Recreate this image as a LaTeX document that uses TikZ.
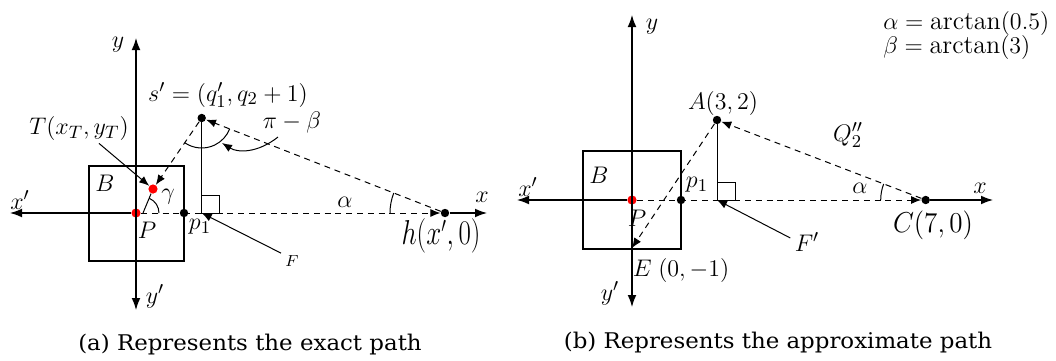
\documentclass[tikz,border=0pt]{standalone}
\usepackage{fontspec}
\newfontfamily\capfont{DejaVu Serif}
\usetikzlibrary{arrows.meta}
\begin{document}
\begin{tikzpicture}[x=0.5pt,y=-0.5pt,
  lbl/.style={inner sep=0pt,font=\fontsize{12.5}{14}\selectfont},
  axis/.style={line width=0.6pt,-{Latex[length=6pt,width=4.4pt]}},
  biaxis/.style={line width=0.6pt,{Latex[length=6pt,width=4.4pt]}-{Latex[length=6pt,width=4.4pt]}},
  dsh/.style={line width=0.5pt,dash pattern=on 3pt off 2.4pt},
  tip/.style={-{Latex[length=5pt,width=4pt]}},
  bdot/.style={circle,fill=black,inner sep=0pt,minimum size=4.2pt},
  rdot/.style={circle,fill=red,inner sep=0pt,minimum size=4.6pt},
  sq/.style={draw,line width=1pt,inner sep=0pt},
  thn/.style={line width=0.5pt},
  captext/.style={inner sep=0pt,xscale=1.06,font=\capfont\fontsize{10.8}{12}\selectfont}]
\useasboundingbox (0,0) rectangle (1056,360);

% ================= (a) =================
\node[sq,minimum size=47.5pt] (Ba) at (136.3,213) {};
\coordinate (xla) at (10,213);
\coordinate (xra) at (487,213);
\coordinate (yta) at (136,38);
\coordinate (yba) at (136,310);
\coordinate (fa) at (201.7,213);
\coordinate (Ga) at (143,213);
\node[rdot] (Pa) at (136,213) {};
\node[rdot] (Ta) at (153,189) {};
\node[bdot] (p1a) at (184,213) {};
\node[bdot] (sa) at (201.7,118) {};
\node[bdot] (ha) at (445,213) {};

\draw[biaxis] (yba) -- (yta);
\draw[axis] (Pa) -- (xla);
\draw[dsh,tip] (Pa) -- (ha);
\draw[axis] (ha) -- (xra);
\draw[thn] (sa.center) -- (fa);
\draw[thn] (fa) rectangle ++(17.3,-17.3);
\draw[dsh,tip] (sa) -- (Ta);
\draw[thn] (Ga) -- (Ta);
\draw[dsh,tip] (ha) -- (sa);
% gamma arc
\draw[thn] (159,213) arc[start angle=0,end angle=-67,radius=16];
% pi - beta arc
\draw[thn] (184.75,142.75) arc[start angle=124.4,end angle=21.3,radius=30];
\draw[thn,tip] (278,137) .. controls (258,153) and (238,153) .. (222,143);
% alpha arc
\draw[thn] (390,213) arc[start angle=180,end angle=201.3,radius=55];

\node[lbl] (yla) at (118,45) {$y$};
\node[lbl] (xpla) at (20,200) {$x'$};
\node[lbl] (Bla) at (105,183) {$B$};
\node[lbl] (Pla) at (147,230) {$P$};
\node[lbl] (p1la) at (200,227) {$p_1$};
\node[lbl] (gla) at (168,197) {$\gamma$};
\node[lbl] (ypla) at (155,296) {$y'$};
\node[lbl] (xlaa) at (482,197) {$x$};
\node[lbl,font=\fontsize{16}{18}\selectfont,xscale=0.78] (hla) at (441,236) {$h(x',0)$};
\node[lbl,font=\fontsize{13}{15}\selectfont] (sla) at (228,95) {$s'=(q'_1,q_2+1)$};
\node[lbl,font=\fontsize{13}{15}\selectfont] (Tla) at (79,128) {$T(x_T,y_T)$};
\node[lbl] (ala) at (345,202) {$\alpha$};
\node[lbl] (pbla) at (292,122) {$\pi-\beta$};
\node[lbl,font=\fontsize{8}{9}\selectfont] (Fla) at (292,261) {$F$};
\draw[thn,tip] ([xshift=10pt,yshift=-1.5pt]Tla.south) -- (Ta);
\draw[thn,tip] ([xshift=-2pt,yshift=1pt]Fla.north west) -- (fa);

% ================= (b) =================
\node[sq,minimum size=49pt] (Bb) at (631.5,200) {};
\coordinate (xlb) at (517,200);
\coordinate (xrb) at (993,200);
\coordinate (ytb) at (632,15);
\coordinate (ybb) at (632,307);
\coordinate (fb) at (717,200);
\coordinate (Eb) at (632,248);
\node[rdot] (Pb) at (632,200) {};
\node[bdot] (p1b) at (681,200) {};
\node[bdot] (Ab) at (717,120) {};
\node[bdot] (Cb) at (925.7,200) {};

\draw[biaxis] (ybb) -- (ytb);
\draw[axis] (Pb) -- (xlb);
\draw[dsh,tip] (Pb) -- (Cb);
\draw[axis] (Cb) -- (xrb);
\draw[thn] (Ab.center) -- (fb);
\draw[thn] (fb) rectangle ++(18,-18);
\draw[dsh,tip] (Ab) -- (Eb);
\draw[dsh,tip] (Cb) -- (Ab);
\draw[thn] (880.7,200) arc[start angle=180,end angle=200.9,radius=45];

\node[lbl] (ylb) at (652,27) {$y$};
\node[lbl] (xplb) at (528,187) {$x'$};
\node[lbl] (Blb) at (599,175) {$B$};
\node[lbl] (p1lb) at (697,185) {$p_1$};
\node[lbl] (Plb) at (637,218) {$P$};
\node[lbl] (Elb) at (681,270) {$E\;(0,-1)$};
\node[lbl] (yplb) at (610,293) {$y'$};
\node[lbl] (Alb) at (723,103) {$A(3,2)$};
\node[lbl] (Qlb) at (848,135) {$Q''_2$};
\node[lbl] (alb) at (860,188) {$\alpha$};
\node[lbl] (xlbb) at (980,188) {$x$};
\node[lbl,font=\fontsize{14}{16}\selectfont,xscale=0.94] (Clb) at (933,225) {$C(7,0)$};
\node[lbl] (Flb) at (807,242) {$F'$};
\draw[thn,tip] ([xshift=-2pt,yshift=2pt]Flb.west) -- (fb);
\node[lbl,font=\fontsize{13}{15}\selectfont,anchor=west] (eq1) at (883,23) {$\alpha=\arctan(0.5)$};
\node[lbl,font=\fontsize{13}{15}\selectfont,anchor=west] (eq2) at (883,47) {$\beta=\arctan(3)$};

% captions
\node[captext] (capa) at (250,345) {(a) Represents the exact path};
\node[captext] (capb) at (778,343) {(b) Represents the approximate path};
\end{tikzpicture}
\end{document}
